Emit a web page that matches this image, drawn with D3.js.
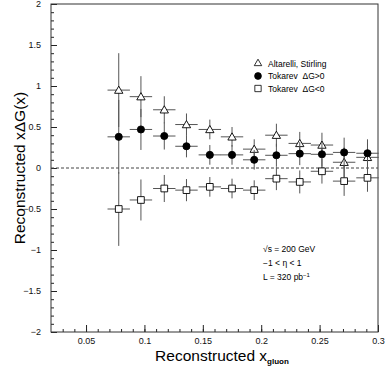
<!DOCTYPE html>
<html>
<head>
<meta charset="utf-8">
<script src="https://cdn.jsdelivr.net/npm/d3@7"></script>
<style>
  body { margin: 0; background: #fff; }
  svg { display: block; font-family: "Liberation Sans", Arial, sans-serif; }
</style>
</head>
<body>
<div id="d3-container"></div>
<script>
// bin centres and half widths (x_gluon)
const xBins = [0.078, 0.097, 0.117, 0.136, 0.156, 0.175, 0.194, 0.213, 0.233, 0.252, 0.271, 0.291];
const xHalf = 0.0096;

const altarelli = [0.95, 0.87, 0.71, 0.53, 0.47, 0.38, 0.23, 0.40, 0.30, 0.28, 0.07, 0.13];
const tokarevPos = [0.38, 0.47, 0.39, 0.265, 0.16, 0.16, 0.10, 0.155, 0.175, 0.167, 0.19, 0.18];
const tokarevNeg = [-0.50, -0.39, -0.25, -0.27, -0.23, -0.25, -0.27, -0.13, -0.17, -0.04, -0.16, -0.12];
const yErr = [0.45, 0.25, 0.165, 0.135, 0.12, 0.12, 0.12, 0.14, 0.14, 0.15, 0.18, 0.17];

const xTicks = [0.05, 0.1, 0.15, 0.2, 0.25, 0.3];
const yTicks = [-2, -1.5, -1, -0.5, 0, 0.5, 1, 1.5, 2];
const legendLabels = ['Altarelli, Stirling', 'Tokarev  \u0394G>0', 'Tokarev  \u0394G<0'];
const notes = ['\u221As = 200 GeV', '\u22121 < \u03b7 < 1', 'L = 320 pb'];

const width = 385;
const height = 372;
const margin = { top: 4, bottom: 40, left: 51, right: 7 };

const svg = d3.select('#d3-container')
  .append('svg')
  .attr('width', width)
  .attr('height', height);

const x = d3.scaleLinear()
  .domain([0.02, 0.3])
  .range([margin.left, width - margin.right]);

const y = d3.scaleLinear()
  .domain([-2, 2])
  .range([height - margin.bottom, margin.top]);

const fmt = d => d3.format('')(d).replace('-', '\u2212');

// minor + major ticks, pointing inward
function xAxis(g) {
  g.attr('transform', `translate(0, ${height - margin.bottom})`)
    .call(d3.axisTop(x).tickValues(d3.range(0.03, 0.3, 0.01)).tickSize(3).tickFormat(''))
    .call(g => g.select('.domain').remove());
  g.append('g')
    .call(d3.axisTop(x).tickValues(xTicks).tickSize(7).tickFormat(''))
    .call(g => g.select('.domain').remove());
  g.append('g')
    .call(d3.axisBottom(x).tickValues(xTicks).tickSize(0).tickPadding(6).tickFormat(d => fmt(d)))
    .call(g => g.select('.domain').remove())
    .attr('font-size', 9);
}

function yAxis(g) {
  g.attr('transform', `translate(${margin.left}, 0)`)
    .call(d3.axisRight(y).tickValues(d3.range(-19, 20).map(d => d / 10)).tickSize(3).tickFormat(''))
    .call(g => g.select('.domain').remove());
  g.append('g')
    .call(d3.axisRight(y).tickValues(yTicks).tickSize(6).tickFormat(''))
    .call(g => g.select('.domain').remove());
  g.append('g')
    .call(d3.axisLeft(y).tickValues(yTicks).tickSize(0).tickPadding(10).tickFormat(d => fmt(d)))
    .call(g => g.select('.domain').remove())
    .attr('font-size', 9);
}

svg.append('g').call(xAxis);
svg.append('g').call(yAxis);
svg.selectAll('.tick line').attr('stroke', '#222');
svg.selectAll('.tick text').attr('fill', '#111');

// frame
svg.append('rect')
  .attr('x', margin.left)
  .attr('y', margin.top)
  .attr('width', width - margin.left - margin.right)
  .attr('height', height - margin.top - margin.bottom)
  .attr('fill', 'none')
  .attr('stroke', '#333')
  .attr('stroke-width', 1);

// zero line
svg.append('line')
  .attr('x1', x(0.02)).attr('x2', x(0.3))
  .attr('y1', y(0)).attr('y2', y(0))
  .attr('stroke', '#444')
  .attr('stroke-dasharray', '3,2');

const series = [
  { values: altarelli, symbol: 'triangle' },
  { values: tokarevPos, symbol: 'circle' },
  { values: tokarevNeg, symbol: 'square' }
];

series.forEach(s => {
  const g = svg.append('g');
  const pts = s.values.map((v, i) => ({ x: xBins[i], y: v, e: yErr[i] }));
  g.selectAll('line.h')
    .data(pts)
    .join('line')
      .attr('x1', d => x(d.x - xHalf))
      .attr('x2', d => x(d.x + xHalf))
      .attr('y1', d => y(d.y))
      .attr('y2', d => y(d.y))
      .attr('stroke', '#555');
  g.selectAll('line.v')
    .data(pts)
    .join('line')
      .attr('x1', d => x(d.x))
      .attr('x2', d => x(d.x))
      .attr('y1', d => y(d.y - d.e))
      .attr('y2', d => y(d.y + d.e))
      .attr('stroke', '#555');
  const sym = s.symbol === 'triangle' ? d3.symbolTriangle : s.symbol === 'circle' ? d3.symbolCircle : d3.symbolSquare;
  const size = s.symbol === 'triangle' ? 30 : s.symbol === 'circle' ? 40 : 45;
  g.selectAll('path')
    .data(pts)
    .join('path')
      .attr('transform', d => `translate(${x(d.x)},${y(d.y) + (s.symbol === 'triangle' ? 0.8 : 0)})`)
      .attr('d', d3.symbol(sym, size))
      .attr('fill', s.symbol === 'circle' ? '#000' : '#fff')
      .attr('stroke', '#000')
      .attr('stroke-width', 0.9);
});

// legend
const legend = svg.append('g').attr('transform', 'translate(258, 0)');
legendLabels.forEach((t, i) => {
  const yy = [63.5, 76, 88.5][i];
  const sym = [d3.symbolTriangle, d3.symbolCircle, d3.symbolSquare][i];
  legend.append('path')
    .attr('transform', `translate(0,${yy})`)
    .attr('d', d3.symbol(sym, [24, 36, 40][i]))
    .attr('fill', i === 1 ? '#000' : '#fff')
    .attr('stroke', '#000')
    .attr('stroke-width', 0.8);
  legend.append('text')
    .attr('x', 10)
    .attr('y', yy + 3)
    .attr('font-size', 8.5)
    .style('white-space', 'pre')
    .text(t);
});

// run conditions
const note = svg.append('g').attr('transform', 'translate(263, 0)')
  .attr('font-size', 8.5);
notes.forEach((t, i) => {
  const txt = note.append('text')
    .attr('y', [252, 266, 280][i])
    .text(t);
  if (i === 2) {
    txt.append('tspan').attr('dy', -3).attr('font-size', 6).text('\u22121');
  }
});

// axis titles
const xt = svg.append('text')
  .attr('x', 222)
  .attr('y', 361)
  .attr('text-anchor', 'middle')
  .attr('font-size', 15.5)
  .text('Reconstructed x');
xt.append('tspan').attr('dy', 3).attr('font-size', 8).attr('font-weight', 'bold').text('gluon');

svg.append('text')
  .attr('x', -168)
  .attr('y', 25)
  .attr('transform', 'rotate(-90)')
  .attr('text-anchor', 'middle')
  .attr('font-size', 15.5)
  .text('Reconstructed x\u0394G(x)');

svg.node();
</script>
</body>
</html>
